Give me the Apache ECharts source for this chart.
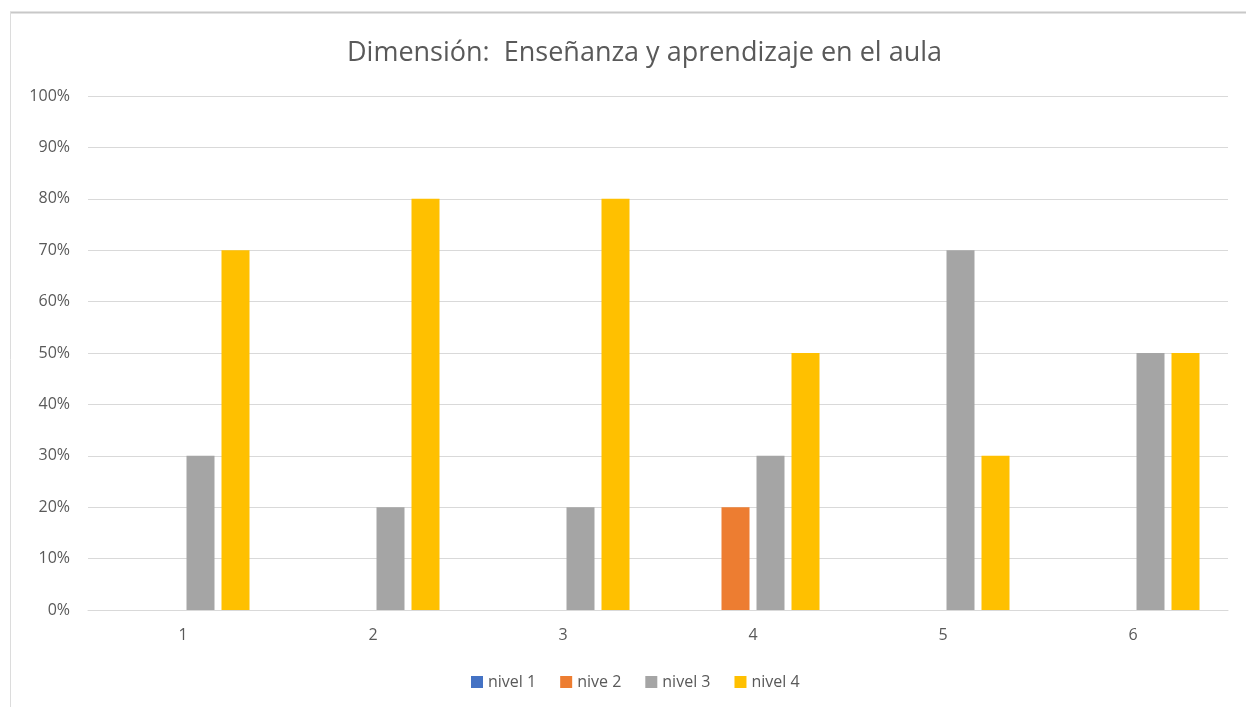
<!DOCTYPE html>
<html>
<head>
<meta charset="utf-8">
<script src="https://cdn.jsdelivr.net/npm/echarts@6/dist/echarts.min.js"></script>
<style>
  html, body { margin: 0; padding: 0; background: #fff; }
  #chart { width: 1246px; height: 707px; }
</style>
</head>
<body>
<div id="chart"></div>
<script>
const categories = ['1', '2', '3', '4', '5', '6'];
const seriesNames = ['nivel 1', 'nive 2', 'nivel 3', 'nivel 4'];
const nivel1 = [0, 0, 0, 0, 0, 0];
const nive2 = [0, 0, 0, 20, 0, 0];
const nivel3 = [30, 20, 20, 30, 70, 50];
const nivel4 = [70, 80, 80, 50, 30, 50];
const colors = ['#4472C4', '#ED7D31', '#A5A5A5', '#FFC000'];

const font = "'Open Sans', 'Noto Sans', sans-serif";
const values = [nivel1, nive2, nivel3, nivel4];

const chart = echarts.init(document.getElementById('chart'), null, { renderer: 'canvas' });
chart.setOption({
  animation: false,
  color: colors,
  title: {
    text: 'Dimensión:  Enseñanza y aprendizaje en el aula',
    left: 342,
    top: 35,
    textStyle: { color: '#595959', fontSize: 27, fontWeight: 'normal', fontFamily: font }
  },
  legend: {
    data: seriesNames,
    left: 466,
    top: 669,
    itemWidth: 12,
    itemHeight: 12,
    itemGap: 24,
    icon: 'rect',
    textStyle: { color: '#595959', fontSize: 16, fontFamily: font }
  },
  grid: { left: 88, right: 18, top: 96, bottom: 97, containLabel: false },
  xAxis: {
    type: 'category',
    data: categories,
    axisLine: { lineStyle: { color: '#d9d9d9', width: 1 } },
    axisTick: { show: false },
    axisLabel: { color: '#595959', fontSize: 16, fontFamily: font, margin: 17 }
  },
  yAxis: {
    type: 'value',
    min: 0,
    max: 100,
    interval: 10,
    axisLine: { show: false },
    axisTick: { show: false },
    splitLine: { lineStyle: { color: '#d9d9d9', width: 1 } },
    axisLabel: { color: '#595959', fontSize: 16, fontFamily: font, margin: 18, formatter: '{value}%' }
  },
  graphic: [
    { type: 'line', shape: { x1: 10, y1: 12.5, x2: 1246, y2: 12.5 }, style: { stroke: '#c8c8c8', lineWidth: 2 }, silent: true },
    { type: 'line', shape: { x1: 10.5, y1: 12, x2: 10.5, y2: 707 }, style: { stroke: '#dcdcdc', lineWidth: 1 }, silent: true }
  ],
  series: seriesNames.map((name, i) => ({
    name: name,
    type: 'bar',
    data: values[i],
    barGap: '25%',
    barCategoryGap: '30%',
    itemStyle: { color: colors[i] }
  }))
});
</script>
</body>
</html>
